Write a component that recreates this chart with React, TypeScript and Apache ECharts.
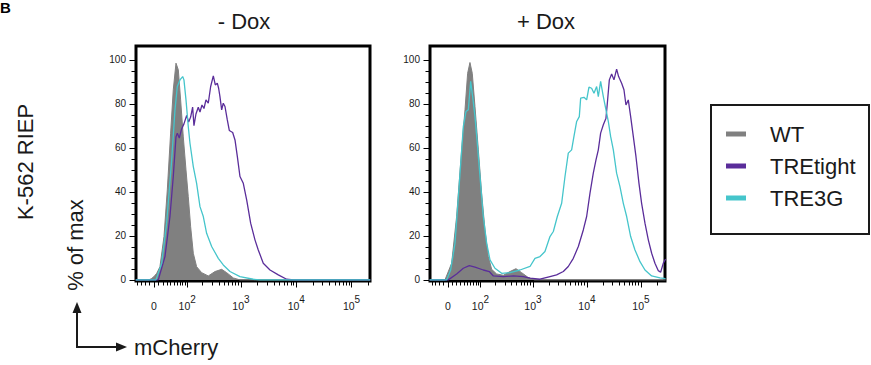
import React, { useEffect, useRef } from 'react';
import * as echarts from 'echarts';

// ---- axis scale (logicle-like display, asinh based) ----
const LINEAR_WIDTH = 53.5;
const toDisplay = (v: number) => Math.asinh(v / LINEAR_WIDTH) / Math.LN10;

const xMajorValues = [0, 100, 1000, 10000, 100000];
const xMajorLabels = ['0', '10^2', '10^3', '10^4', '10^5'];
const xMinorValues = [
  -40, -30, -20, -10, 10, 20, 30, 40, 50, 60, 70, 80, 90,
  200, 300, 400, 500, 600, 700, 800, 900,
  2000, 3000, 4000, 5000, 6000, 7000, 8000, 9000,
  20000, 30000, 40000, 50000, 60000, 70000, 80000, 90000, 200000,
];
const yMajorValues = [0, 20, 40, 60, 80, 100];
const yMinorValues = [5, 10, 15, 25, 30, 35, 45, 50, 55, 65, 70, 75, 85, 90, 95];

const panelTitles = ['- Dox', '+ Dox'];
const seriesNames = ['WT', 'TREtight', 'TRE3G'];
const seriesColors = ['#808080', '#5a2d9a', '#45c5cb'];

// ---- data: [display position (decades), % of max] ----
const minusDoxWT: [number, number][] = [
  [-0.33, 0], [-0.1, 0], [-0.05, 0.5], [0, 1.5], [0.05, 3], [0.108, 6], [0.181, 19.7], [0.241, 40.9],
  [0.301, 66.7], [0.349, 86.4], [0.398, 98.5], [0.44, 95.5], [0.482, 81.8], [0.53, 65], [0.579, 50],
  [0.62, 37.9], [0.663, 24.2], [0.711, 12.1], [0.771, 6], [0.862, 3.3], [0.982, 1.8], [1.103, 3.8],
  [1.224, 4.8], [1.314, 3.3], [1.434, 0.9], [1.555, 0], [3.91, 0],
];
const minusDoxTREtight: [number, number][] = [
  [-0.33, 0], [0.078, 0], [0.199, 10.6], [0.289, 28.8], [0.349, 47], [0.398, 65], [0.422, 66.7],
  [0.458, 64.5], [0.5, 68.6], [0.542, 70.9], [0.591, 74.7], [0.627, 71.7], [0.663, 74], [0.699, 78.5],
  [0.723, 70.1], [0.759, 75.4], [0.801, 78.5], [0.832, 76.3], [0.868, 79.5], [0.904, 77.9], [0.94, 81.8],
  [0.982, 80.3], [1.025, 87.9], [1.073, 92.7], [1.109, 88.6], [1.145, 89.4], [1.169, 87.1], [1.193, 83.3],
  [1.224, 77.3], [1.253, 80.3], [1.284, 78.8], [1.326, 72.7], [1.362, 67.9], [1.423, 67], [1.465, 63.6],
  [1.507, 56.1], [1.555, 47], [1.615, 43.9], [1.676, 36.4], [1.748, 25.8], [1.826, 18.2], [1.886, 13.6],
  [1.976, 7.6], [2.098, 4.5], [2.248, 2.3], [2.399, 0.3], [2.52, 0], [3.91, 0],
];
const minusDoxTRE3G: [number, number][] = [
  [-0.33, 0], [0.036, 0], [0.139, 7.6], [0.229, 25.8], [0.32, 54.5], [0.38, 77.3], [0.422, 87.9],
  [0.47, 90.9], [0.519, 92.4], [0.542, 90.9], [0.579, 81.8], [0.62, 69.7], [0.651, 62.1], [0.711, 51.5],
  [0.771, 43.9], [0.832, 33.3], [0.892, 28.8], [0.952, 21.2], [1.043, 15.2], [1.163, 9.8], [1.253, 6.8],
  [1.374, 3.8], [1.555, 1.5], [1.796, 0.3], [1.917, 0], [3.91, 0],
];

const plusDoxWT: [number, number][] = [
  [-0.34, 0], [-0.056, 0], [0.068, 7.6], [0.16, 28.8], [0.253, 59.1], [0.315, 77.3], [0.364, 93.9],
  [0.407, 98.8], [0.45, 93.9], [0.5, 78.8], [0.562, 59.1], [0.623, 39.4], [0.685, 22.7], [0.747, 10.6],
  [0.809, 4.8], [0.901, 2.7], [1.025, 2.1], [1.148, 3.8], [1.259, 5.1], [1.364, 3.3], [1.48, 1.2],
  [1.6, 0], [4.03, 0],
];
const plusDoxTREtight: [number, number][] = [
  [-0.34, 0], [0.006, 0], [0.16, 2.7], [0.284, 5.3], [0.395, 6.5], [0.5, 5.8], [0.654, 4.5], [0.765, 3.8],
  [0.84, 1.8], [1.025, 1.5], [1.21, 1.8], [1.395, 1.5], [1.519, 0.8], [1.704, 0.3], [1.889, 1.5],
  [2.012, 2.3], [2.136, 3.8], [2.228, 6.1], [2.321, 9.8], [2.414, 15.2], [2.506, 22.7], [2.568, 28.8],
  [2.63, 39.4], [2.691, 48.5], [2.741, 54.5], [2.784, 59.1], [2.827, 66.7], [2.877, 70.5], [2.926, 73.5],
  [2.951, 80.3], [2.988, 90.9], [3.031, 93.6], [3.074, 90.9], [3.123, 95.8], [3.16, 92.4], [3.216, 89.4],
  [3.259, 86.4], [3.296, 79.5], [3.339, 81.8], [3.383, 74.2], [3.432, 65.2], [3.481, 56.1], [3.537, 43.9],
  [3.586, 34.8], [3.648, 25.8], [3.71, 18.2], [3.772, 12.1], [3.833, 7.6], [3.895, 4.2], [3.938, 3.5],
  [3.988, 7.6], [4.03, 9.5],
];
const plusDoxTRE3G: [number, number][] = [
  [-0.34, 0], [-0.025, 0], [0.049, 4.5], [0.13, 16.7], [0.21, 43.9], [0.284, 69.7], [0.333, 76.5],
  [0.377, 77.3], [0.42, 90.2], [0.457, 83.3], [0.5, 74.2], [0.543, 62.1], [0.593, 47], [0.654, 28.8],
  [0.716, 16.7], [0.778, 9.1], [0.87, 5.3], [0.994, 3], [1.148, 3.3], [1.333, 4.5], [1.519, 6.1],
  [1.611, 9.8], [1.704, 10.6], [1.796, 12.9], [1.889, 19.7], [1.951, 22], [2.025, 28.8], [2.105, 34.8],
  [2.167, 47], [2.228, 57.6], [2.29, 59.1], [2.333, 65.2], [2.383, 72], [2.432, 74.2], [2.457, 82.6],
  [2.519, 83], [2.568, 81.8], [2.611, 87.6], [2.66, 87.1], [2.704, 84.8], [2.753, 87.9], [2.784, 83.3],
  [2.827, 90.2], [2.877, 83.3], [2.926, 77.3], [2.969, 72], [3.012, 65.2], [3.062, 59.1], [3.123, 48.5],
  [3.185, 42.4], [3.247, 34.8], [3.309, 28.8], [3.383, 19.7], [3.463, 13.6], [3.556, 8.3], [3.648, 4.5],
  [3.772, 1.8], [3.926, 0.9], [4.03, 0.6],
];

const panelData = [
  [minusDoxWT, minusDoxTREtight, minusDoxTRE3G],
  [plusDoxWT, plusDoxTREtight, plusDoxTRE3G],
];

const FONT = '"Liberation Sans", Arial, Helvetica, sans-serif';

function buildOption() {
  const grids = [
    { left: 136, top: 46, width: 234, height: 235, xMin: -0.325, xMax: 3.906 },
    { left: 430, top: 46, width: 235, height: 235, xMin: -0.333, xMax: 4.019 },
  ];
  const majorX = xMajorValues.map(toDisplay);
  const minorX = xMinorValues.map(toDisplay);
  const labelFor = (val: number) => {
    let best = 0;
    for (let i = 0; i < majorX.length; i++) {
      if (Math.abs(majorX[i] - val) < Math.abs(majorX[best] - val)) best = i;
    }
    const lab = xMajorLabels[best];
    if (lab.indexOf('^') < 0) return '{b|' + lab + '}';
    const [base, exp] = lab.split('^');
    return '{b|' + base + '}{s|' + exp + '}';
  };

  const xAxis: any[] = [];
  const yAxis: any[] = [];
  const series: any[] = [];
  grids.forEach((g, gi) => {
    xAxis.push({
      type: 'value', gridIndex: gi, min: g.xMin, max: g.xMax, position: 'bottom',
      axisLine: { show: false, onZero: false }, splitLine: { show: false },
      axisTick: { show: true, inside: false, length: 6.5, customValues: majorX, lineStyle: { color: '#000', width: 1 } },
      axisLabel: {
        show: true, customValues: majorX, margin: 14, formatter: labelFor,
        rich: {
          b: { fontSize: 10.5, fontFamily: FONT, color: '#1a1a1a', lineHeight: 22 },
          s: { fontSize: 10, fontFamily: FONT, color: '#1a1a1a', lineHeight: 8, padding: [0, 0, 14, 0] },
        },
      },
    });
    xAxis.push({
      type: 'value', gridIndex: gi, min: g.xMin, max: g.xMax, position: 'bottom',
      axisLine: { show: false, onZero: false }, splitLine: { show: false },
      axisTick: { show: true, inside: false, length: 4.5, customValues: minorX, lineStyle: { color: '#000', width: 1 } },
      axisLabel: { show: false },
    });
    yAxis.push({
      type: 'value', gridIndex: gi, min: -0.5, max: 106.3, position: 'left',
      axisLine: { show: false, onZero: false }, splitLine: { show: false },
      axisTick: { show: true, inside: false, length: 6.5, customValues: yMajorValues, lineStyle: { color: '#000', width: 1 } },
      axisLabel: {
        show: true, customValues: yMajorValues, margin: 10, fontSize: 10, fontFamily: FONT, color: '#1a1a1a',
      },
    });
    yAxis.push({
      type: 'value', gridIndex: gi, min: -0.5, max: 106.3, position: 'left',
      axisLine: { show: false, onZero: false }, splitLine: { show: false },
      axisTick: { show: true, inside: false, length: 4.5, customValues: yMinorValues, lineStyle: { color: '#000', width: 1 } },
      axisLabel: { show: false },
    });
    panelData[gi].forEach((d, si) => {
      const s: any = {
        type: 'line', name: seriesNames[si], xAxisIndex: gi * 2, yAxisIndex: gi * 2,
        data: d, showSymbol: false, symbol: 'none', clip: true,
        color: seriesColors[si], itemStyle: { color: seriesColors[si] },
        lineStyle: { color: seriesColors[si], width: si === 0 ? 1 : 1.3 },
        z: 3 + si,
      };
      if (si === 0) s.areaStyle = { color: seriesColors[0], opacity: 1 };
      series.push(s);
    });
  });

  const graphic: any[] = [
    { type: 'text', x: 0, y: 0, style: { text: 'B', font: 'bold 15px ' + FONT, fill: '#000', textVerticalAlign: 'top' } },
    { type: 'text', x: 244, y: 21, style: { text: panelTitles[0], font: '22px ' + FONT, fill: '#1a1a1a', textAlign: 'center', textVerticalAlign: 'middle' } },
    { type: 'text', x: 546, y: 21, style: { text: panelTitles[1], font: '22px ' + FONT, fill: '#1a1a1a', textAlign: 'center', textVerticalAlign: 'middle' } },
    { type: 'text', x: 25, y: 162, rotation: Math.PI / 2, style: { text: 'K-562 RIEP', font: '22px ' + FONT, fill: '#1a1a1a', textAlign: 'center', textVerticalAlign: 'middle' } },
    { type: 'text', x: 75, y: 245, rotation: Math.PI / 2, style: { text: '% of max', font: '22px ' + FONT, fill: '#1a1a1a', textAlign: 'center', textVerticalAlign: 'middle' } },
    { type: 'text', x: 134, y: 347, style: { text: 'mCherry', font: '22px ' + FONT, fill: '#1a1a1a', textAlign: 'left', textVerticalAlign: 'middle' } },
    { type: 'polyline', shape: { points: [[77, 311], [77, 347], [118, 347]] }, style: { stroke: '#1a1a1a', lineWidth: 2, fill: null } },
    { type: 'polygon', shape: { points: [[77, 302], [72.5, 313], [81.5, 313]] }, style: { fill: '#1a1a1a' } },
    { type: 'polygon', shape: { points: [[127, 347], [116, 342.5], [116, 351.5]] }, style: { fill: '#1a1a1a' } },
    { type: 'rect', shape: { x: 711, y: 105, width: 158, height: 129 }, style: { stroke: '#1a1a1a', lineWidth: 2, fill: 'none' } },
  ];

  return {
    animation: false,
    backgroundColor: '#fff',
    grid: grids.map((g) => ({
      left: g.left, top: g.top, width: g.width, height: g.height,
      show: true, borderColor: '#000', borderWidth: 3, backgroundColor: 'transparent',
      containLabel: false, outerBoundsMode: 'none',
    })),
    xAxis, yAxis, series, graphic,
    legend: {
      data: seriesNames, orient: 'vertical', left: 726, top: 123, padding: 0,
      itemWidth: 20, itemHeight: 5, itemGap: 10, icon: 'rect', selectedMode: false,
      textStyle: { fontSize: 22, fontFamily: FONT, color: '#1a1a1a', lineHeight: 22, padding: [0, 0, 0, 19] },
    },
  };
}

export default function App() {
  const ref = useRef<HTMLDivElement>(null);
  useEffect(() => {
    if (!ref.current) return;
    const chart = echarts.init(ref.current, undefined, { renderer: 'svg' });
    chart.setOption(buildOption() as any);
    return () => chart.dispose();
  }, []);
  return <div ref={ref} style={{ width: 871, height: 365, position: 'absolute', left: 0, top: 0 }} />;
}
